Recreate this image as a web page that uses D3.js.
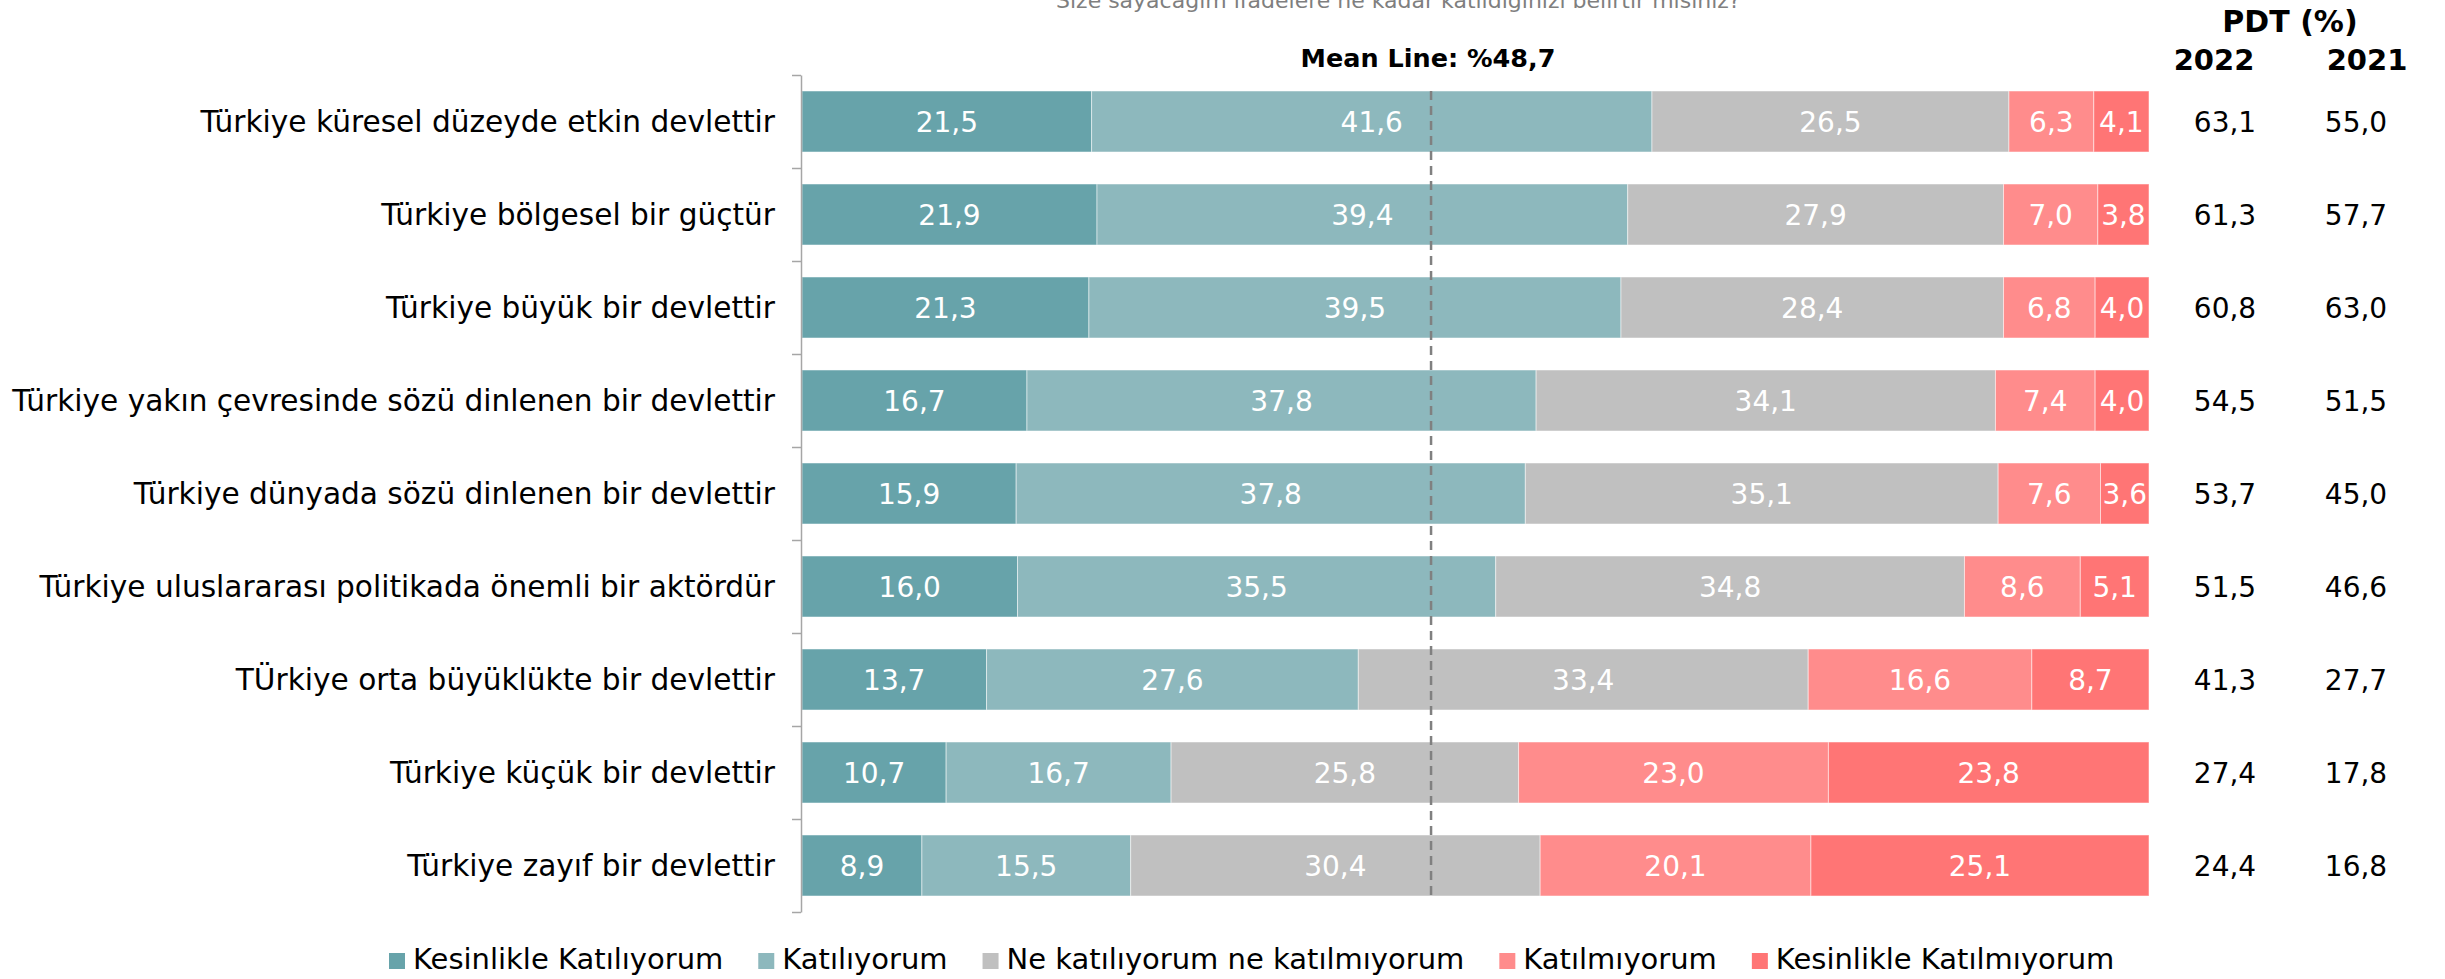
<!DOCTYPE html>
<html>
<head>
<meta charset="utf-8">
<script src="https://cdn.jsdelivr.net/npm/d3@7"></script>
<style>
  body { margin: 0; background: #fff; }
  svg { display: block; font-family: "DejaVu Sans", Verdana, sans-serif; }
</style>
</head>
<body>
<svg id="chart"></svg>
<script>
var categories = [
    "Türkiye küresel düzeyde etkin devlettir",
    "Türkiye bölgesel bir güçtür",
    "Türkiye büyük bir devlettir",
    "Türkiye yakın çevresinde sözü dinlenen bir devlettir",
    "Türkiye dünyada sözü dinlenen bir devlettir",
    "Türkiye uluslararası politikada önemli bir aktördür",
    "TÜrkiye orta büyüklükte bir devlettir",
    "Türkiye küçük bir devlettir",
    "Türkiye zayıf bir devlettir"
];
var seriesNames = ["Kesinlikle Katılıyorum", "Katılıyorum", "Ne katılıyorum ne katılmıyorum", "Katılmıyorum", "Kesinlikle Katılmıyorum"];
var kesinlikleKatiliyorum = [21.5, 21.9, 21.3, 16.7, 15.9, 16.0, 13.7, 10.7, 8.9];
var katiliyorum = [41.6, 39.4, 39.5, 37.8, 37.8, 35.5, 27.6, 16.7, 15.5];
var neKatiliyorum = [26.5, 27.9, 28.4, 34.1, 35.1, 34.8, 33.4, 25.8, 30.4];
var katilmiyorum = [6.3, 7.0, 6.8, 7.4, 7.6, 8.6, 16.6, 23.0, 20.1];
var kesinlikleKatilmiyorum = [4.1, 3.8, 4.0, 4.0, 3.6, 5.1, 8.7, 23.8, 25.1];
var pdt2022 = [63.1, 61.3, 60.8, 54.5, 53.7, 51.5, 41.3, 27.4, 24.4];
var pdt2021 = [55.0, 57.7, 63.0, 51.5, 45.0, 46.6, 27.7, 17.8, 16.8];
var pdtYears = ["2022", "2021"];
var meanLinePos = 46.7;
var meanLineLabel = "Mean Line: %48,7";
var titleText = "Size sayacağım ifadelere ne kadar katıldığınızı belirtir misiniz?";

var colors = ["#67a3aa", "#8db8bd", "#c0c0c0", "#ff8c8c", "#ff7575"];

var width = 2445, height = 979;
var svg = d3.select("#chart").attr("width", width).attr("height", height);

var fmt = v => d3.format(".1f")(v).replace(".", ",");

var x = d3.scaleLinear().domain([0, 100]).range([802, 2149]);
var y = d3.scaleBand().domain(categories).range([75, 912])
    .paddingInner(0.344).paddingOuter(0.172);

// build stacked rows
var series = [kesinlikleKatiliyorum, katiliyorum, neKatiliyorum, katilmiyorum, kesinlikleKatilmiyorum];
var rows = categories.map((c, i) => {
    var r = { cat: c };
    seriesNames.forEach((s, k) => r[s] = series[k][i]);
    return r;
});
var stacked = d3.stack().keys(seriesNames)(rows);

// title, mostly cut off at the top (as in the original)
svg.append("text")
    .attr("x", 1056).attr("y", 8)
    .attr("font-size", 22).attr("fill", "#7f7f7f")
    .text(titleText);

// bars
var layers = svg.append("g").selectAll("g")
    .data(stacked)
    .enter().append("g")
    .attr("fill", (d, i) => colors[i]);

layers.selectAll("rect")
    .data(d => d)
    .enter().append("rect")
    .attr("x", d => x(d[0]))
    .attr("y", d => y(d.data.cat))
    .attr("width", d => x(d[1]) - x(d[0]))
    .attr("height", y.bandwidth())
    .attr("stroke", "#ffffff")
    .attr("stroke-opacity", 0.5)
    .attr("stroke-width", 1);

layers.selectAll("text")
    .data(d => d)
    .enter().append("text")
    .attr("x", d => (x(d[0]) + x(d[1])) / 2)
    .attr("y", d => y(d.data.cat) + y.bandwidth() / 2)
    .attr("dy", "0.36em")
    .attr("text-anchor", "middle")
    .attr("font-size", 28)
    .attr("fill", "#ffffff")
    .text(d => fmt(d[1] - d[0]));

// left axis with ticks between the bars
var yTicks = d3.scaleLinear().domain([0, categories.length]).range([75, 912]);
var axis = svg.append("g")
    .attr("transform", "translate(801,0)")
    .call(d3.axisLeft(yTicks).tickValues(d3.range(categories.length + 1)).tickFormat("").tickSize(9).tickSizeOuter(0));
axis.selectAll("path, line").attr("stroke", "#a6a6a6").attr("stroke-width", 1.5);

// category labels
svg.append("g").selectAll("text")
    .data(categories)
    .enter().append("text")
    .attr("x", 775)
    .attr("y", d => y(d) + y.bandwidth() / 2)
    .attr("dy", "0.36em")
    .attr("text-anchor", "end")
    .attr("font-size", 29.6)
    .attr("fill", "#000")
    .text(d => d);

// mean line
svg.append("line")
    .attr("x1", x(meanLinePos)).attr("x2", x(meanLinePos))
    .attr("y1", y(categories[0]))
    .attr("y2", y(categories[categories.length - 1]) + y.bandwidth())
    .attr("stroke", "#808080")
    .attr("stroke-width", 2.5)
    .attr("stroke-dasharray", "9,6");

svg.append("text")
    .attr("x", x(meanLinePos) - 3).attr("y", 67)
    .attr("text-anchor", "middle")
    .attr("font-size", 25.5).attr("font-weight", "bold")
    .text(meanLineLabel);

// PDT columns
svg.append("text")
    .attr("x", 2290).attr("y", 32)
    .attr("text-anchor", "middle")
    .attr("font-size", 30).attr("font-weight", "bold")
    .text("PDT (%)");

var pdtCols = [{ year: pdtYears[0], vals: pdt2022, hx: 2214, vx: 2225 },
               { year: pdtYears[1], vals: pdt2021, hx: 2367, vx: 2356 }];

pdtCols.forEach(col => {
    svg.append("text")
        .attr("x", col.hx).attr("y", 70)
        .attr("text-anchor", "middle")
        .attr("font-size", 29).attr("font-weight", "bold")
        .text(col.year);

    svg.append("g").selectAll("text")
        .data(col.vals)
        .enter().append("text")
        .attr("x", col.vx)
        .attr("y", (d, i) => y(categories[i]) + y.bandwidth() / 2)
        .attr("dy", "0.36em")
        .attr("text-anchor", "middle")
        .attr("font-size", 28)
        .text(d => fmt(d));
});

// legend
var legend = svg.append("g").attr("transform", "translate(389,953)");
var lx = 0;
seriesNames.forEach((name, i) => {
    var item = legend.append("g").attr("transform", "translate(" + lx + ",0)");
    item.append("rect")
        .attr("width", 16).attr("height", 16)
        .attr("fill", colors[i]);
    var t = item.append("text")
        .attr("x", 24).attr("y", 16)
        .attr("font-size", 29)
        .text(name);
    lx += 24 + t.node().getComputedTextLength() + 35;
});
</script>
</body>
</html>
